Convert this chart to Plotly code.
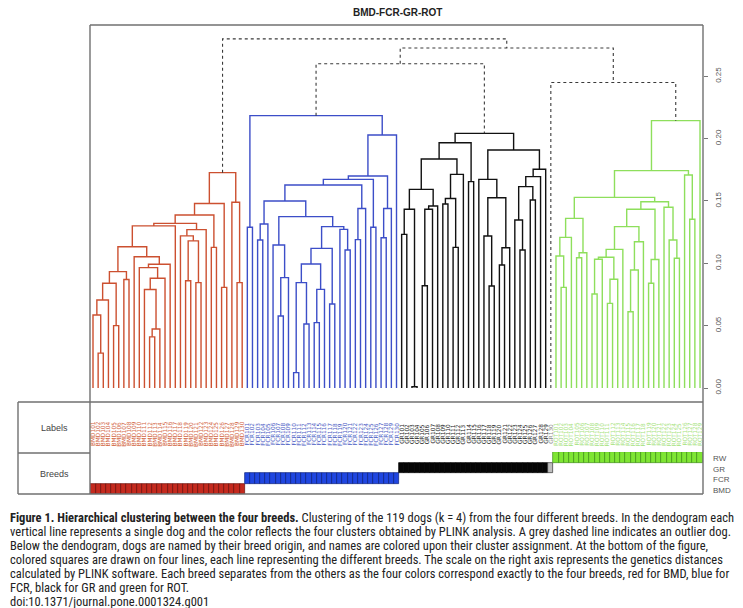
import plotly.graph_objects as go

# ---------------- data ----------------
title_text = "BMD-FCR-GR-ROT"
leaf_breed = ["BMD"] * 30 + ["FCR"] * 30 + ["GR"] * 30 + ["ROT"] * 29
leaf_cluster = ["red"] * 30 + ["blue"] * 30 + ["black"] * 29 + ["outlier"] + ["green"] * 29
breed_rows = ["BMD", "FCR", "GR", "ROT"]
breed_row_labels = ["BMD", "FCR", "GR", "RW"]
y_ticks = [0.00, 0.05, 0.10, 0.15, 0.20, 0.25]
y_tick_text = ["0.00", "0.05", "0.10", "0.15", "0.20", "0.25"]

# merges: [first leaf, last leaf, height]
red_merges = [
    [1, 2, 0.028], [0, 2, 0.0585], [0, 3, 0.0706], [4, 5, 0.050], [0, 5, 0.084], [6, 7, 0.087],
    [0, 7, 0.0933], [11, 12, 0.041], [11, 13, 0.0473], [10, 13, 0.079], [10, 14, 0.088],
    [9, 14, 0.0965], [9, 15, 0.0992], [8, 15, 0.1053], [0, 15, 0.1133], [0, 16, 0.130],
    [18, 19, 0.086], [20, 21, 0.0845], [18, 21, 0.118], [17, 21, 0.122], [17, 22, 0.127],
    [0, 22, 0.132], [23, 24, 0.1128], [0, 24, 0.1387], [25, 26, 0.0807], [0, 26, 0.148],
    [28, 29, 0.0845], [27, 29, 0.149], [0, 29, 0.1727]]
blue_merges = [
    [30, 31, 0.1289], [32, 33, 0.1187], [32, 34, 0.1315], [36, 37, 0.0577], [36, 38, 0.0885],
    [35, 38, 0.1147], [39, 40, 0.0123], [41, 42, 0.0513], [39, 42, 0.0845], [43, 44, 0.0524],
    [43, 45, 0.0791], [39, 45, 0.0994], [46, 47, 0.0674], [39, 47, 0.112], [49, 50, 0.1107],
    [48, 50, 0.1272], [39, 50, 0.1294], [35, 50, 0.1374], [32, 50, 0.150], [51, 52, 0.119],
    [51, 53, 0.144], [32, 53, 0.1628], [54, 55, 0.1289], [32, 55, 0.1673], [56, 57, 0.1205],
    [56, 58, 0.144], [32, 58, 0.170], [32, 59, 0.2029], [30, 59, 0.2184]]
black_merges = [
    [60, 61, 0.1232], [62, 63, 0.001], [60, 63, 0.1433], [64, 65, 0.082], [64, 66, 0.1433],
    [64, 67, 0.146], [60, 67, 0.1593], [68, 69, 0.1476], [70, 71, 0.1128], [68, 71, 0.152],
    [68, 72, 0.1713], [60, 72, 0.1836], [73, 74, 0.1655], [60, 74, 0.1967], [77, 78, 0.0818],
    [76, 78, 0.1219], [79, 80, 0.0986], [79, 81, 0.1125], [76, 81, 0.1526], [75, 81, 0.1673],
    [83, 84, 0.1107], [82, 84, 0.1347], [85, 86, 0.1508], [82, 86, 0.1615], [82, 87, 0.1695],
    [82, 88, 0.1754], [75, 88, 0.1909], [60, 88, 0.2042]]
green_merges = [
    [91, 92, 0.0807], [90, 92, 0.1059], [90, 93, 0.1208], [94, 95, 0.1045], [94, 96, 0.1085],
    [90, 96, 0.136], [97, 98, 0.0754], [97, 99, 0.1032], [100, 101, 0.0679], [100, 102, 0.0872],
    [97, 102, 0.1048], [97, 103, 0.1112], [104, 105, 0.0612], [104, 106, 0.0946],
    [104, 107, 0.1173], [97, 107, 0.1294], [108, 109, 0.084], [108, 110, 0.103],
    [97, 110, 0.1433], [113, 114, 0.104], [112, 114, 0.1187], [111, 114, 0.1449],
    [97, 114, 0.1494], [90, 114, 0.1529], [116, 117, 0.1353], [115, 117, 0.1708],
    [90, 117, 0.1743], [90, 118, 0.2144]]
top_merges = [[89, 118, 0.245], [30, 88, 0.260], [30, 118, 0.2727], [0, 118, 0.280]]

caption_lines = [
    "<b>Figure 1. Hierarchical clustering between the four breeds.</b> Clustering of the 119 dogs (k = 4) from the four different breeds. In the dendogram each",
    "vertical line represents a single dog and the color reflects the four clusters obtained by PLINK analysis. A grey dashed line indicates an outlier dog.",
    "Below the dendogram, dogs are named by their breed origin, and names are colored upon their cluster assignment. At the bottom of the figure,",
    "colored squares are drawn on four lines, each line representing the different breeds. The scale on the right axis represents the genetics distances",
    "calculated by PLINK software. Each breed separates from the others as the four colors correspond exactly to the four breeds, red for BMD, blue for",
    "FCR, black for GR and green for ROT.",
    "doi:10.1371/journal.pone.0001324.g001",
]

# ---------------- styles ----------------
W, H = 743, 608
line_colors = {"red": "#CC5030", "blue": "#3C4EC8", "black": "#111111", "green": "#8EDF5C"}
label_colors = {"red": "#D2643F", "blue": "#4A5BC4", "black": "#222222", "green": "#A6E27E",
                "outlier": "#888888"}
sq_fill = {"BMD": "#C42A1E", "FCR": "#2046E0", "GR": "#050505", "ROT": "#7FE533"}
sq_edge = {"BMD": "#6A0E08", "FCR": "#0B1F7A", "GR": "#000000", "ROT": "#3E8C14"}
frame_col = "#707070"


def px_x(x):
    return x / W


def px_y(y):
    return 1 - y / H


# ---------------- dendrogram geometry ----------------
all_merges = {}
for grp, ms in [("red", red_merges), ("blue", blue_merges), ("black", black_merges),
                ("green", green_merges), ("top", top_merges)]:
    for a, b, h in ms:
        all_merges[(a, b)] = (h, grp)

node_pos = {}
for i in range(len(leaf_breed)):
    node_pos[(i, i)] = (float(i), 0.0)

segs = {k: ([], []) for k in ["red", "blue", "black", "green", "top"]}
for (a, b) in sorted(all_merges, key=lambda r: r[1] - r[0]):
    h, grp = all_merges[(a, b)]
    k = a
    for (s, e) in all_merges:
        if s == a and e < b and e > k:
            k = e
    lx, lh = node_pos[(a, k)]
    rx, rh = node_pos[(k + 1, b)]
    xs, ys = segs[grp]
    xs += [lx, lx, rx, rx, None]
    ys += [lh, h, h, rh, None]
    node_pos[(a, b)] = ((lx + rx) / 2, h)

fig = go.Figure()
for grp in ["red", "blue", "black", "green"]:
    xs, ys = segs[grp]
    fig.add_trace(go.Scatter(x=xs, y=ys, mode="lines", hoverinfo="skip",
                             line=dict(color=line_colors[grp], width=1.4)))
xs, ys = segs["top"]
fig.add_trace(go.Scatter(x=xs, y=ys, mode="lines", hoverinfo="skip",
                         line=dict(color="#3A3A3A", width=1.1, dash="3px,3px")))

# ---------------- breed squares ----------------
row_index = {b: i for i, b in enumerate(breed_rows)}
fills, edges, bases = [], [], []
for i, b in enumerate(leaf_breed):
    bases.append(row_index[b])
    if leaf_cluster[i] == "outlier":
        fills.append("#BDBDBD")
        edges.append("#333333")
    else:
        fills.append(sq_fill[b])
        edges.append(sq_edge[b])
fig.add_trace(go.Bar(x=list(range(len(leaf_breed))), y=[1] * len(leaf_breed), base=bases,
                     width=1, marker=dict(color=fills, line=dict(color=edges, width=0.7)),
                     xaxis="x2", yaxis="y2", hoverinfo="skip"))

# ---------------- layout ----------------
x_dom = [px_x(90), px_x(703)]
x_rng = [-0.583, 118.58]
fig.update_layout(
    width=W, height=H, margin=dict(l=0, r=0, t=0, b=0),
    paper_bgcolor="white", plot_bgcolor="white", showlegend=False, bargap=0,
    xaxis=dict(domain=x_dom, range=x_rng, visible=False, anchor="y"),
    yaxis=dict(domain=[px_y(402), px_y(25)], range=[-0.01123, 0.2911], side="right",
               anchor="x", tickvals=y_ticks, ticktext=y_tick_text, ticks="outside", ticklen=4,
               tickcolor="#777777", tickangle=-90, showgrid=False, zeroline=False,
               showline=False, ticklabelstandoff=3,
               tickfont=dict(family="Liberation Sans, Arial", size=8, color="#555555")),
    xaxis2=dict(domain=x_dom, range=x_rng, visible=False, anchor="y2"),
    yaxis2=dict(domain=[px_y(494), px_y(452)], range=[0, 4], visible=False, anchor="x2"),
)

shapes = []
def line(x0, y0, x1, y1):
    shapes.append(dict(type="line", xref="paper", yref="paper", x0=px_x(x0), y0=px_y(y0),
                       x1=px_x(x1), y1=px_y(y1), line=dict(color=frame_col, width=1.4)))
line(90, 25, 703, 25)
line(703, 25, 703, 494)
line(90, 25, 90, 494)
line(18, 402, 703, 402)
line(18, 494, 703, 494)
line(18, 402, 18, 494)
line(18, 453, 90, 453)
fig.update_layout(shapes=shapes)

ann = []
ann.append(dict(text="<b>" + title_text + "</b>", x=px_x(397), y=px_y(12), xref="paper",
                yref="paper", showarrow=False, xanchor="center", yanchor="middle",
                font=dict(family="Liberation Sans, Arial", size=10, color="#222222")))
ann.append(dict(text="Labels", x=px_x(54), y=px_y(428), xref="paper", yref="paper",
                showarrow=False, xanchor="center", yanchor="middle",
                font=dict(family="Liberation Sans, Arial", size=9, color="#444444")))
ann.append(dict(text="Breeds", x=px_x(54), y=px_y(474), xref="paper", yref="paper",
                showarrow=False, xanchor="center", yanchor="middle",
                font=dict(family="Liberation Sans, Arial", size=9, color="#444444")))
for lab, yy in zip(breed_row_labels, [490, 479, 469, 458]):
    ann.append(dict(text=lab, x=px_x(711), y=px_y(yy), xref="paper", yref="paper",
                    showarrow=False, xanchor="left", yanchor="middle",
                    font=dict(family="Liberation Sans, Arial", size=8, color="#555555")))

counters = {}
for i, b in enumerate(leaf_breed):
    counters[b] = counters.get(b, 0) + 1
    lab = "%s%03d" % (b, 100 + counters[b])
    ann.append(dict(text=lab, x=i, xref="x", y=px_y(434), yref="paper", showarrow=False,
                    textangle=-90, xanchor="center", yanchor="middle",
                    font=dict(family="DejaVu Sans", size=5.8, color=label_colors[leaf_cluster[i]])))

for k, (txt, yy) in enumerate(zip(caption_lines, [517, 531, 545, 559, 573, 587, 601])):
    ann.append(dict(text=txt, x=px_x(8), y=px_y(yy), xref="paper", yref="paper",
                    showarrow=False, xanchor="left", yanchor="middle",
                    font=dict(family="Liberation Sans Narrow, Roboto Condensed, Liberation Sans",
                              size=12.5, color="#222222")))
fig.update_layout(annotations=ann)

fig.write_html("out.html", config={"displayModeBar": False},
               post_script="document.body.style.margin='0';document.body.style.overflow='hidden';")
